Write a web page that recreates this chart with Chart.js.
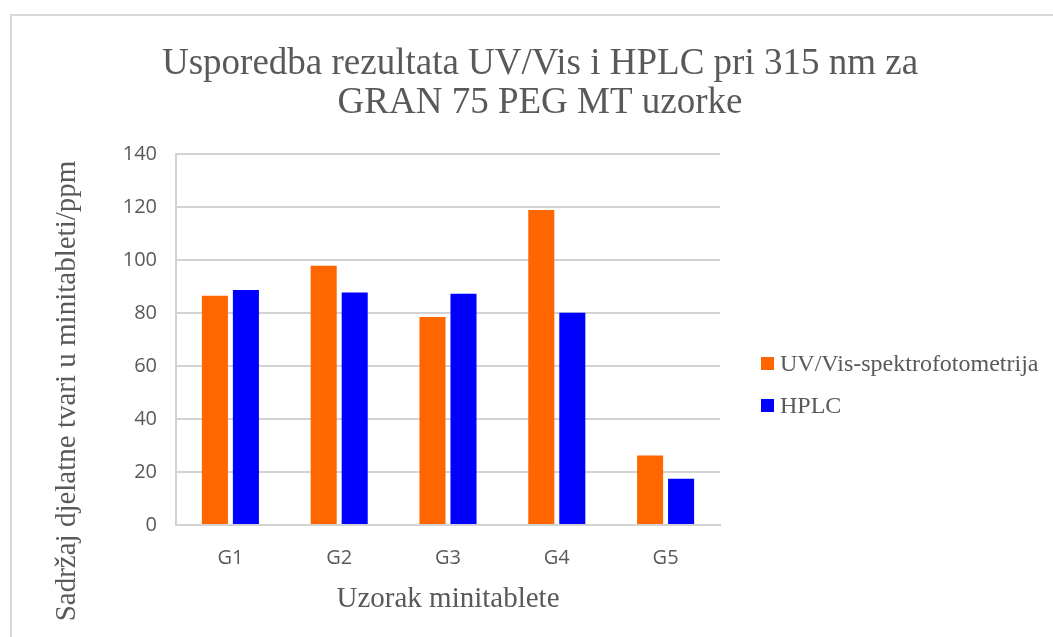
<!DOCTYPE html>
<html>
<head>
<meta charset="utf-8">
<script src="https://cdn.jsdelivr.net/npm/chart.js@4/dist/chart.umd.min.js"></script>
<style>
  html, body { margin: 0; padding: 0; background: #ffffff; }
  #wrap { width: 1053px; height: 637px; position: relative; }
</style>
</head>
<body>
<div id="wrap"><canvas id="c" width="1053" height="637"></canvas></div>
<script>
// Uzorci i izmjereni sadržaj (ppm)
const categories = ['G1', 'G2', 'G3', 'G4', 'G5'];
const uvVisValues = [86.5, 97.8, 78.5, 118.9, 26.2];
const hplcValues = [88.7, 87.7, 87.3, 80.1, 17.5];
const seriesNames = ['UV/Vis-spektrofotometrija', 'HPLC'];
const yTicks = [0, 20, 40, 60, 80, 100, 120, 140];

const titleLines = ['Usporedba rezultata UV/Vis i HPLC pri 315 nm za', 'GRAN 75 PEG MT uzorke'];
const xTitle = 'Uzorak minitablete';
const yTitle = 'Sadržaj djelatne tvari u minitableti/ppm';

const TEXT = '#595959';
const GRID = '#d3d3d3';
const SERIF = "'Liberation Serif', 'Times New Roman', serif";
const SANS = "'Open Sans', 'Liberation Sans', sans-serif";

// Frame, headings, axis titles and legend drawn around the plot
const decorations = {
  id: 'decorations',
  beforeDraw(chart) {
    const ctx = chart.ctx;
    ctx.save();
    ctx.fillStyle = '#ffffff';
    ctx.fillRect(0, 0, chart.width, chart.height);
    ctx.strokeStyle = '#d9d9d9';
    ctx.lineWidth = 2;
    ctx.strokeRect(11, 15, 2000, 2000);
    ctx.restore();
  },
  afterDraw(chart) {
    const ctx = chart.ctx;
    const area = chart.chartArea;
    ctx.save();
    ctx.fillStyle = TEXT;
    ctx.textBaseline = 'alphabetic';

    // chart title
    ctx.font = '37px ' + SERIF;
    ctx.textAlign = 'center';
    ctx.fillText(titleLines[0], 540, 74);
    ctx.fillText(titleLines[1], 540, 113);

    // x axis title
    ctx.font = '29px ' + SERIF;
    ctx.fillText(xTitle, (area.left + area.right) / 2, 607);

    // y axis title
    ctx.save();
    ctx.translate(75, 391);
    ctx.rotate(-Math.PI / 2);
    ctx.fillText(yTitle, 0, 0);
    ctx.restore();

    // legend
    ctx.font = '24px ' + SERIF;
    ctx.textAlign = 'left';
    chart.data.datasets.forEach((ds, i) => {
      const y = 357 + i * 42;
      ctx.fillStyle = ds.backgroundColor;
      ctx.fillRect(761, y, 13, 13);
      ctx.fillStyle = TEXT;
      ctx.fillText(ds.label, 780, y + 14);
    });
    ctx.restore();
  }
};

new Chart(document.getElementById('c'), {
  type: 'bar',
  data: {
    labels: categories,
    datasets: [
      { label: seriesNames[0], data: uvVisValues, backgroundColor: '#ff6600' },
      { label: seriesNames[1], data: hplcValues, backgroundColor: '#0000ff' }
    ]
  },
  options: {
    responsive: false,
    animation: false,
    devicePixelRatio: 1,
    categoryPercentage: 0.57,
    barPercentage: 0.84,
    layout: { padding: { top: 154, right: 333, bottom: 0, left: 0 } },
    plugins: {
      legend: { display: false },
      title: { display: false },
      tooltip: { enabled: false }
    },
    scales: {
      x: {
        afterFit: s => { s.height = 112; },
        grid: {
          drawTicks: false,
          lineWidth: 2,
          color: c => (c.index === categories.length ? GRID : 'rgba(0,0,0,0)')
        },
        border: { display: true, color: GRID, width: 2 },
        ticks: { color: TEXT, font: { family: SANS, size: 20 }, padding: 21 }
      },
      y: {
        min: yTicks[0],
        max: yTicks[yTicks.length - 1],
        afterFit: s => { s.width = 176; },
        afterBuildTicks: s => { s.ticks = yTicks.map(v => ({ value: v })); },
        grid: { drawTicks: false, lineWidth: 2, color: GRID },
        border: { display: true, color: GRID, width: 2 },
        ticks: { color: TEXT, font: { family: SANS, size: 20 }, padding: 19 }
      }
    }
  },
  plugins: [decorations]
});
</script>
</body>
</html>
